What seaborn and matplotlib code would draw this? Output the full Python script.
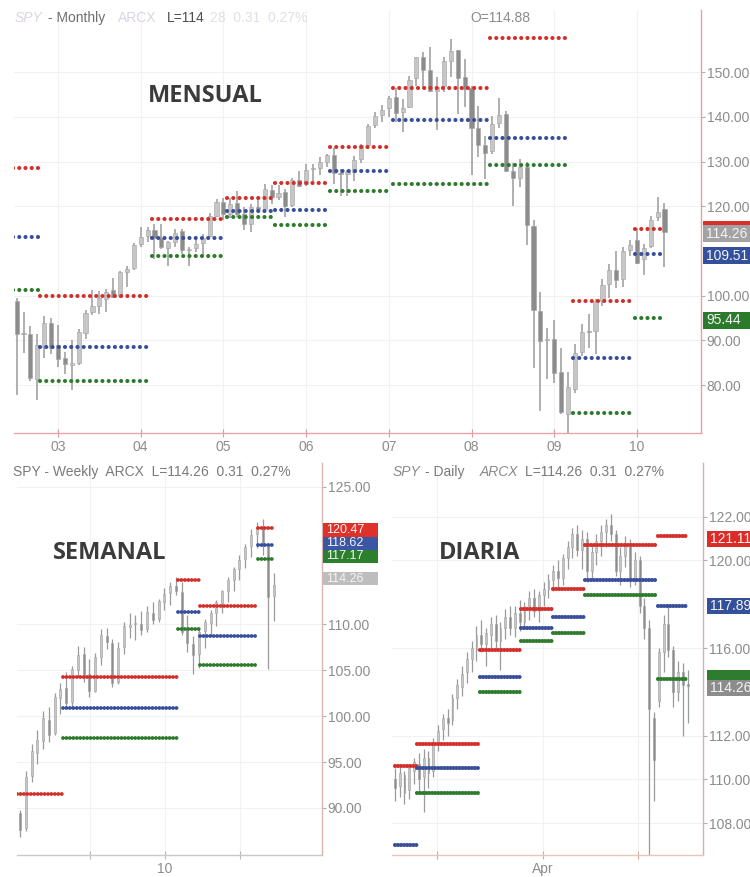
import matplotlib
matplotlib.use('Agg')
import matplotlib.pyplot as plt
import matplotlib.transforms as mtransforms
from matplotlib.patches import Rectangle
from matplotlib.ticker import FormatStrFormatter
import numpy as np
import pandas as pd
import seaborn as sns

# ---------------- monthly SPY bars, Jul 2002 .. May 2010 ----------------
m_start = '2002-07-01'
m_open = [98.9, 91.4, 91.5, 81.4, 88.5, 94.0,
          88.9, 86.0, 84.4, 85.0, 91.7, 96.3, 97.7, 99.3, 101.3, 100.0, 105.3, 106.3,
          111.6, 113.3, 114.7, 113.0, 110.7, 112.0, 114.5, 110.2, 110.6, 111.8, 113.3, 117.9,
          121.0, 118.3, 120.7, 118.2, 116.1, 119.8, 119.4, 123.7, 122.1, 123.1, 120.3, 125.8,
          124.9, 128.3, 128.6, 130.0, 131.5, 127.5, 127.3, 127.6, 130.6, 133.6, 138.2, 140.4,
          142.0, 144.4, 141.0, 142.3, 148.6, 153.3, 150.5, 145.8, 147.0, 152.6, 154.9, 148.9,
          146.5, 137.6, 133.7, 132.3, 138.6, 140.6, 128.0, 126.3, 128.8, 115.5, 96.6, 90.2,
          90.4, 82.9, 73.6, 79.2, 87.5, 92.0, 92.0, 98.8, 102.6, 105.8, 103.8, 110.2,
          112.4, 108.2, 111.2, 117.6, 119.4]
m_high = [99.5, 96.4, 93.2, 91.4, 95.5, 95.0,
          93.5, 87.5, 90.0, 92.5, 96.8, 101.3, 101.0, 101.6, 104.0, 105.6, 106.7, 111.8,
          115.3, 115.4, 116.0, 116.1, 112.3, 115.0, 114.9, 111.0, 113.1, 113.7, 118.5, 121.7,
          121.9, 121.9, 123.5, 119.8, 120.6, 122.3, 124.9, 124.8, 124.7, 123.9, 126.4, 128.0,
          129.5, 129.4, 131.0, 131.8, 133.0, 128.4, 128.2, 131.3, 134.0, 138.5, 141.0, 142.7,
          144.6, 146.4, 144.0, 149.2, 153.5, 154.4, 155.6, 149.0, 153.5, 157.5, 155.0, 153.0,
          146.9, 142.5, 135.8, 140.3, 144.3, 141.3, 129.7, 130.6, 130.0, 117.0, 100.9, 92.8,
          94.5, 88.2, 83.0, 89.1, 93.6, 95.9, 99.3, 103.7, 107.2, 110.0, 111.0, 112.4,
          115.1, 111.6, 117.9, 122.1, 120.7]
m_low = [77.7, 87.3, 81.0, 76.7, 86.0, 87.0,
         84.0, 82.5, 78.9, 84.6, 90.3, 95.6, 96.0, 96.4, 99.5, 99.5, 102.0, 105.8,
         110.9, 112.0, 108.3, 110.5, 106.7, 111.0, 109.3, 106.6, 109.7, 108.8, 113.2, 117.5,
         116.9, 117.4, 117.7, 114.7, 114.3, 119.1, 119.3, 120.6, 121.3, 117.6, 119.9, 124.4,
         124.5, 125.7, 126.9, 128.7, 124.9, 122.3, 122.4, 125.7, 129.7, 132.8, 137.4, 138.8,
         140.0, 138.8, 136.7, 141.9, 147.0, 146.3, 145.6, 137.0, 145.6, 149.0, 140.6, 142.3,
         126.9, 131.0, 126.0, 131.7, 137.4, 127.6, 120.0, 124.3, 111.4, 83.9, 74.3, 81.3,
         80.5, 73.6, 67.1, 78.3, 86.6, 88.2, 86.9, 97.7, 99.6, 101.8, 102.0, 108.9,
         107.2, 104.6, 110.6, 116.8, 106.4]
m_close = [91.5, 91.6, 81.6, 88.9, 93.9, 88.2,
           85.8, 84.7, 84.9, 91.8, 96.2, 97.6, 99.4, 100.9, 99.8, 105.2, 106.0, 111.3,
           113.1, 114.6, 112.8, 110.9, 112.0, 114.1, 110.2, 110.5, 111.6, 113.0, 117.8, 120.9,
           118.2, 120.6, 118.2, 116.0, 119.8, 119.3, 123.8, 122.0, 123.0, 120.0, 125.8, 124.5,
           128.1, 128.6, 129.8, 131.5, 127.5, 127.3, 127.6, 130.4, 133.6, 138.0, 140.3, 141.6,
           144.2, 140.9, 142.0, 148.3, 153.3, 150.4, 145.7, 146.7, 152.6, 154.7, 148.7, 146.2,
           137.4, 133.8, 132.0, 138.3, 140.4, 128.0, 126.4, 128.8, 115.8, 96.8, 89.9, 90.2,
           82.8, 73.9, 79.5, 87.3, 91.9, 91.9, 98.8, 102.4, 105.7, 103.6, 109.9, 111.4,
           107.4, 110.7, 117.0, 118.8, 114.3]

# monthly pivot segments (decimal years) and levels
m_seg_start = [2002.46, 2002.78, 2004.14, 2005.04, 2005.62, 2006.29, 2007.05, 2008.22, 2009.23, 2009.98]
m_seg_end = [2002.76, 2004.11, 2005.02, 2005.58, 2006.27, 2006.99, 2008.19, 2009.19, 2009.95, 2010.28]
m_r1 = [128.5, 99.9, 117.2, 121.9, 125.1, 133.2, 146.5, 157.7, 98.8, 114.9]
m_pp = [113.1, 88.5, 113.0, 118.9, 119.1, 127.9, 139.3, 135.2, 86.1, 109.4]
m_s1 = [101.2, 80.9, 108.8, 117.5, 115.8, 123.4, 124.9, 129.2, 73.7, 95.1]
m_years = [2003, 2004, 2005, 2006, 2007, 2008, 2009, 2010]
m_year_labels = ['03', '04', '05', '06', '07', '08', '09', '10']
m_yticks = [80, 90, 100, 120, 130, 140, 150]

# ---------------- weekly bars (Jul 2009 .. May 2010) ----------------
w_open = [89.5, 87.8, 93.5, 96.0, 97.3, 99.6, 98.2, 102.0, 103.1, 101.5, 105.0, 106.8, 104.6, 102.8, 106.5,
          108.7, 108.0, 103.7, 107.5, 109.7, 110.0, 110.1, 109.5, 111.3, 110.6, 112.5, 113.4, 114.2, 113.5,
          109.4, 107.9, 106.8, 109.3, 110.2, 111.3, 112.3, 113.7, 114.9, 116.0, 117.1, 118.5, 119.9, 120.5,
          118.5, 113.1]
w_high = [89.8, 94.0, 97.0, 98.5, 100.6, 101.0, 102.5, 103.6, 104.8, 105.5, 107.7, 107.5, 106.2, 106.9, 109.5,
          109.6, 108.4, 108.1, 110.3, 111.2, 111.0, 111.5, 112.0, 112.5, 112.8, 114.0, 114.6, 115.2, 114.6,
          111.0, 108.7, 109.6, 110.6, 111.6, 112.7, 113.8, 115.2, 116.3, 117.6, 118.8, 120.4, 121.2, 121.5,
          118.9, 115.6]
w_low = [86.8, 87.5, 92.8, 94.8, 96.4, 97.2, 97.9, 100.2, 100.9, 101.0, 104.3, 103.7, 102.1, 102.6, 105.6,
         107.3, 103.2, 103.5, 106.8, 108.5, 108.3, 108.9, 109.2, 110.0, 110.3, 111.6, 112.1, 113.2, 108.9,
         107.0, 104.6, 105.2, 107.4, 108.7, 109.8, 111.2, 112.4, 113.7, 114.8, 116.1, 117.3, 118.3, 117.6,
         105.1, 110.4]
w_close = [87.6, 93.4, 96.2, 97.4, 99.8, 98.0, 102.1, 103.0, 101.4, 105.1, 106.7, 104.5, 102.7, 106.4, 108.8,
           108.1, 103.6, 107.4, 109.8, 109.9, 110.2, 109.4, 111.4, 110.5, 112.6, 113.3, 114.2, 113.6, 109.2,
           108.0, 106.7, 109.2, 110.3, 111.2, 112.4, 113.6, 114.8, 116.0, 117.0, 118.4, 119.8, 120.6, 118.6,
           113.0, 114.3]
w_seg_start = [-0.5, 7.5, 27.4, 31.2, 41.2]
w_seg_end = [7.5, 27.4, 31.2, 41.2, 44.2]
w_r1 = [91.5, 104.3, 114.9, 112.0, 120.47]
w_pp = [None, 100.9, 111.4, 108.7, 118.62]
w_s1 = [None, 97.6, 109.5, 105.6, 117.17]
w_ticks = [12.1, 25.1, 38.1]
w_tick_labels = ['', '10', '']
w_yticks = [90, 95, 100, 105, 110, 125]

# ---------------- daily bars (mid Feb .. mid May 2010) ----------------
d_open = [110.0, 109.7, 110.2, 109.5, 110.4, 110.7, 110.1, 111.0, 110.4, 111.7, 112.3, 112.8, 112.7, 113.7,
          114.2, 114.9, 115.5, 115.9, 116.6, 116.2, 116.6, 117.1, 116.3, 116.9, 117.4, 116.9, 117.6, 117.2,
          117.9, 118.3, 117.7, 118.4, 118.7, 119.1, 119.5, 119.2, 120.1, 120.6, 121.2, 120.5, 121.0, 119.5,
          120.4, 120.9, 121.3, 121.6, 121.2, 119.5, 120.2, 120.8, 119.1, 120.0, 117.9, 116.9, 112.8, 113.6,
          115.8, 117.1, 115.9, 114.0, 114.9, 114.3]
d_high = [110.5, 110.6, 110.4, 110.7, 111.0, 111.2, 111.4, 111.3, 111.9, 112.5, 113.0, 113.2, 113.9, 114.6,
          115.2, 115.8, 116.3, 117.0, 117.3, 116.9, 117.4, 117.5, 117.2, 117.8, 117.9, 117.9, 118.2, 118.1,
          118.6, 118.7, 118.6, 119.0, 119.4, 119.8, 120.0, 120.3, 120.9, 121.5, 121.6, 121.4, 121.3, 120.7,
          121.2, 121.6, 121.9, 122.1, 121.4, 120.6, 121.1, 121.0, 120.4, 120.2, 118.3, 117.3, 113.1, 116.0,
          117.5, 118.0, 116.1, 115.4, 115.3, 115.0]
d_low = [109.0, 109.2, 108.9, 109.1, 109.8, 109.4, 108.5, 109.6, 110.1, 111.3, 111.8, 112.0, 112.5, 113.2,
         113.8, 114.4, 114.9, 115.4, 115.8, 115.2, 116.0, 115.9, 115.0, 116.4, 116.6, 116.5, 116.8, 116.9,
         117.3, 117.4, 117.2, 117.9, 118.3, 118.6, 118.8, 118.9, 119.6, 120.1, 120.2, 119.6, 119.0, 119.1,
         119.8, 120.2, 120.6, 120.9, 119.3, 118.9, 119.7, 118.8, 118.9, 117.6, 116.4, 106.5, 109.0, 113.3,
         114.9, 115.6, 113.3, 113.6, 112.0, 112.6]
d_close = [109.6, 110.3, 109.4, 110.5, 110.8, 110.0, 111.0, 110.3, 111.6, 112.2, 112.8, 112.6, 113.7, 114.3,
           114.8, 115.5, 116.0, 116.6, 116.2, 116.7, 117.1, 116.3, 116.9, 117.4, 116.9, 117.6, 117.2, 117.9,
           118.3, 117.7, 118.4, 118.7, 119.1, 119.5, 119.2, 120.1, 120.6, 121.2, 120.5, 121.0, 119.5, 120.4,
           120.9, 121.3, 121.6, 121.2, 119.5, 120.2, 120.8, 119.1, 120.0, 117.9, 116.9, 113.2, 110.9, 115.8,
           117.1, 115.9, 114.0, 114.9, 114.3, 114.26]
d_seg_start = [0.0, 4.6, 17.7, 26.3, 32.9, 39.6, 54.8]
d_seg_end = [4.6, 17.7, 26.3, 32.9, 39.6, 54.8, 61.0]
d_r1 = [110.6, 111.6, 115.9, 117.8, 118.7, 120.7, 121.1]
d_pp = [107.0, 110.5, 114.7, 116.9, 117.4, 119.1, 117.9]
d_s1 = [None, 109.4, 114.0, 116.3, 116.7, 118.4, 114.6]
d_ticks = [8.75, 30.8, 50.6]
d_tick_labels = ['', 'Apr', '']
d_yticks = [108, 110, 112, 116, 120, 122]

# last-value tags at the right of each panel: (value position, text, colour)
m_tags = [(114.8, '', '#d8312c'), (113.87, '114.26', '#a3a3a3'),
          (108.95, '109.51', '#33509c'), (94.5, '95.44', '#2c7a2c')]
w_tags = [(120.31, '120.47', '#e0302a'), (118.84, '118.62', '#3a56a4'),
          (117.42, '117.17', '#2c7f2c'), (115.0, '114.26', '#bdbdbd')]
d_tags = [(121.0, '121.11', '#dc2c28'), (117.9, '117.89', '#34509a'),
          (114.62, '', '#2e7d2e'), (114.16, '114.26', '#8c8c8c')]

PIVOT_COLORS = {'R1': '#d3302c', 'PP': '#3a4f9b', 'S1': '#2e7b2e'}

sns.set_style('white')
plt.rcParams['font.family'] = ['Liberation Sans', 'DejaVu Sans']

fig = plt.figure(figsize=(7.5, 8.77), dpi=100)
W, H = 750, 877


def px_axes(left, top, right, bottom):
    return fig.add_axes([left / W, 1 - bottom / H, (right - left) / W, (bottom - top) / H])


def draw_candles(ax, x, o, h, l, c, width, wick_lw):
    o, h, l, c = map(np.asarray, (o, h, l, c))
    up = c >= o
    ax.vlines(x, l, h, color='#9a9a9a', lw=wick_lw, zorder=2)
    ax.bar(x, np.maximum(np.abs(c - o), 0.12), bottom=np.minimum(o, c), width=width,
           color=np.where(up, '#c6c6c6', '#8c8c8c'), edgecolor='#a0a0a0', lw=0.4, zorder=3)


def draw_pivots(ax, starts, ends, r1, pp, s1, lw, period_px):
    rows = []
    for k, (x0, x1) in enumerate(zip(starts, ends)):
        for name, vals in (('R1', r1), ('PP', pp), ('S1', s1)):
            if vals[k] is None:
                continue
            rows.append(dict(x=x0, y=vals[k], level=name, seg=f'{name}{k}'))
            rows.append(dict(x=x1, y=vals[k], level=name, seg=f'{name}{k}'))
    df = pd.DataFrame(rows)
    off = period_px * 0.72 / lw
    sns.lineplot(data=df, x='x', y='y', hue='level', units='seg', estimator=None,
                 palette=PIVOT_COLORS, legend=False, ax=ax, linewidth=lw,
                 linestyle=(0, (0.01, off)), dash_capstyle='round', zorder=4)
    ax.set_xlabel('')
    ax.set_ylabel('')


def style_axes(ax, yticks, spine_r, spine_b, xtick_color):
    for s in ('left', 'top'):
        ax.spines[s].set_visible(False)
    ax.spines['right'].set_color(spine_r)
    ax.spines['bottom'].set_color(spine_b)
    ax.spines['right'].set_linewidth(1.0)
    ax.spines['bottom'].set_linewidth(1.0)
    ax.yaxis.tick_right()
    ax.set_yticks(yticks)
    ax.yaxis.set_major_formatter(FormatStrFormatter('%.2f'))
    ax.tick_params(axis='y', right=True, left=False, labelright=True, labelleft=False,
                   length=3, width=0.8, color='#b0b0b0', labelcolor='#8c8c8c', labelsize=10, pad=1)
    ax.tick_params(axis='x', bottom=True, direction='inout', length=6, width=0.8,
                   color=xtick_color, labelcolor='#8c8c8c', labelsize=10, pad=2)
    ax.grid(True, color='#f1f1f1', lw=0.8)
    ax.set_axisbelow(True)


def value_tags(ax, tags, width_px, height_px, gap_px, fs):
    trans = mtransforms.blended_transform_factory(ax.transAxes, ax.transData)
    ax_w = ax.get_position().width * W
    ax_h = ax.get_position().height * H
    y0, y1 = ax.get_ylim()
    dy = height_px * (y1 - y0) / ax_h
    dx = width_px / ax_w
    x0 = 1 + gap_px / ax_w
    for k, (y, text, face) in enumerate(tags):
        ax.add_patch(Rectangle((x0, y - dy / 2), dx, dy, transform=trans, fc=face, ec='none',
                               clip_on=False, zorder=10 + k))
        if text:
            ax.text(x0 + 3 / ax_w, y, text, transform=trans, ha='left', va='center', fontsize=fs,
                    color='#f4f4f4', clip_on=False, zorder=10 + k)


# ---------------- monthly panel ----------------
ax_m = px_axes(14, 10, 701, 433)
m_dates = pd.date_range(m_start, periods=len(m_close), freq='MS')
m_x = m_dates.year + (m_dates.month - 1) / 12
draw_candles(ax_m, m_x, m_open, m_high, m_low, m_close, width=0.05, wick_lw=1.1)
draw_pivots(ax_m, m_seg_start, m_seg_end, m_r1, m_pp, m_s1, lw=3.0, period_px=6.2)
ax_m.set_xlim(2002.468, 2010.775)
ax_m.set_ylim(69.3, 163.9)
style_axes(ax_m, m_yticks, '#e2a2a2', '#e8a4a4', '#e09a9a')
ax_m.set_xticks(m_years)
ax_m.set_xticklabels(m_year_labels)
value_tags(ax_m, m_tags, 52, 17, 2, 10)

# ---------------- weekly panel ----------------
ax_w = px_axes(17, 463, 322, 855)
w_x = np.arange(len(w_close))
draw_candles(ax_w, w_x, w_open, w_high, w_low, w_close, width=0.35, wick_lw=0.9)
draw_pivots(ax_w, w_seg_start, w_seg_end, w_r1, w_pp, w_s1, lw=2.8, period_px=3.4)
ax_w.set_xlim(-0.52, 52.3)
ax_w.set_ylim(84.87, 127.6)
style_axes(ax_w, w_yticks, '#d9b4b4', '#c8c8c8', '#b8b8b8')
ax_w.set_xticks(w_ticks)
ax_w.set_xticklabels(w_tick_labels)
value_tags(ax_w, w_tags, 55, 13.5, 1, 9)

# ---------------- daily panel ----------------
ax_d = px_axes(392, 463, 703, 855)
d_x = np.arange(len(d_close))
draw_candles(ax_d, d_x, d_open, d_high, d_low, d_close, width=0.4, wick_lw=0.9)
draw_pivots(ax_d, d_seg_start, d_seg_end, d_r1, d_pp, d_s1, lw=3.0, period_px=3.0)
ax_d.set_xlim(-0.6, 64.2)
ax_d.set_ylim(106.55, 124.45)
style_axes(ax_d, d_yticks, '#d8b0a8', '#ecc4b4', '#c8b0a8')
ax_d.set_xticks(d_ticks)
ax_d.set_xticklabels(d_tick_labels)
value_tags(ax_d, d_tags, 50, 16, 4, 10)

# ---------------- header texts ----------------
def ftext(x, y, s, **kw):
    kw.setdefault('fontsize', 10)
    fig.text(x / W, 1 - y / H, s, va='center', ha='left', **kw)


ftext(15, 18, 'SPY', style='italic', color='#dcd3e4')
ftext(48, 18, '- Monthly', color='#6e6e6e')
ftext(118, 18, 'ARCX', color='#dcd3e4')
ftext(167, 18, 'L=114', color='#4e4e4e')
ftext(210, 18, '28  0.31  0.27%', color='#e3dde9')
ftext(470, 18, 'O=114.88', color='#8a8a8a')

ftext(13, 472, 'SPY - Weekly  ARCX  L=114.26  0.31  0.27%', color='#7a7a7a')

ftext(393, 472, 'SPY', style='italic', color='#8a8a8a')
ftext(425, 472, '- Daily', color='#7a7a7a')
ftext(480, 472, 'ARCX', style='italic', color='#8a8a8a')
ftext(525, 472, 'L=114.26  0.31  0.27%', color='#7a7a7a')

big = dict(fontsize=17, fontweight='bold', family=['Open Sans', 'DejaVu Sans'], color='#3b3b3b',
           ha='center', va='center')
fig.text(205 / W, 1 - 96 / H, 'MENSUAL', **big)
fig.text(110 / W, 1 - 553 / H, 'SEMANAL', **big)
fig.text(480 / W, 1 - 553 / H, 'DIARIA', **big)

fig.savefig('out.png', dpi=100)
